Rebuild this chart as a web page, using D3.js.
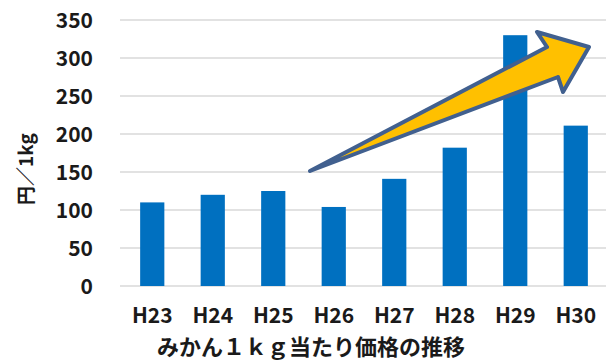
<!DOCTYPE html>
<html>
<head>
<meta charset="utf-8">
<script src="https://cdn.jsdelivr.net/npm/d3@7"></script>
<style>
  body { margin: 0; background: #fff; }
  text { font-family: "Noto Sans CJK JP", "Noto Sans", sans-serif; font-weight: bold; fill: #1a1a1a; }
</style>
</head>
<body>
<svg id="chart" width="606" height="363"></svg>
<script>
// data
const years = ["H23", "H24", "H25", "H26", "H27", "H28", "H29", "H30"];
const prices = [110, 120, 125, 104, 141, 182, 330, 211];
const yTicks = [0, 50, 100, 150, 200, 250, 300, 350];
const title = "みかん１ｋｇ当たり価格の推移";
const yLabel = "円／1kg";

const svg = d3.select("#chart");

const x = d3.scaleBand()
  .domain(years)
  .range([122, 606])
  .paddingInner(0.6)
  .paddingOuter(0.3);

const y = d3.scaleLinear()
  .domain([0, 350])
  .range([286, 20]);

// gridlines
svg.append("g")
  .selectAll("line")
  .data(yTicks)
  .join("line")
  .attr("x1", 120)
  .attr("x2", 606)
  .attr("y1", d => y(d))
  .attr("y2", d => y(d))
  .attr("stroke", "#d9d9d9")
  .attr("stroke-width", 1.5);

// y tick labels
svg.append("g")
  .selectAll("text")
  .data(yTicks)
  .join("text")
  .attr("x", 93)
  .attr("y", d => y(d))
  .attr("dy", "0.36em")
  .attr("text-anchor", "end")
  .style("font-size", "21px")
  .text(d => d);

// bars
svg.append("g")
  .selectAll("rect")
  .data(prices)
  .join("rect")
  .attr("x", (d, i) => x(years[i]))
  .attr("width", x.bandwidth())
  .attr("y", d => y(d))
  .attr("height", d => y(0) - y(d))
  .attr("fill", "#0070c0");

// x labels
svg.append("g")
  .selectAll("text")
  .data(years)
  .join("text")
  .attr("x", d => x(d) + x.bandwidth() / 2)
  .attr("y", 323)
  .attr("text-anchor", "middle")
  .style("font-size", "21px")
  .text(d => d);

// y axis label (rotated)
svg.append("text")
  .attr("transform", "translate(33,169) rotate(-90)")
  .attr("text-anchor", "middle")
  .style("font-size", "19px")
  .text(yLabel);

// title under the chart
svg.append("text")
  .attr("x", 311)
  .attr("y", 355)
  .attr("text-anchor", "middle")
  .style("font-size", "22px")
  .text(title);

// big rising arrow, from tail point to head tip
const arrowPts = [
  [310, 171],
  [547, 47],
  [537, 32],
  [589, 47],
  [563, 92],
  [558, 77]
];
svg.append("path")
  .attr("d", d3.line()(arrowPts) + "Z")
  .attr("fill", "#ffc000")
  .attr("stroke", "#41608f")
  .attr("stroke-width", 4)
  .attr("stroke-linejoin", "round");
</script>
</body>
</html>
